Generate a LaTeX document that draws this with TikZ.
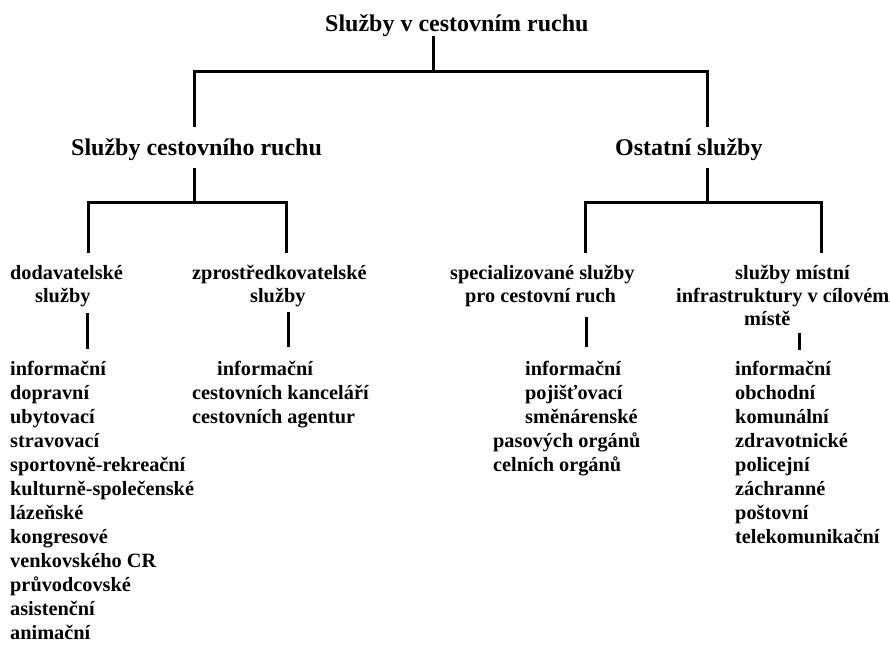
\documentclass[tikz,border=0pt]{standalone}
\usepackage{fontspec}
\setmainfont{Liberation Serif}
\begin{document}
\begin{tikzpicture}[x=1pt,y=-1pt,
  head/.style={font=\bfseries\fontsize{24}{28}\selectfont, inner sep=0pt, anchor=base west},
  item/.style={font=\bfseries\fontsize{20.3}{24}\selectfont, inner sep=0pt, anchor=base west},
  link/.style={line width=3pt, line join=miter}]
\useasboundingbox (0,0) rectangle (890,645);
% level 0 and 1
\node[head] (root) at (325,31) {Služby v cestovním ruchu};
\node[head] (sc) at (71,155) {Služby cestovního ruchu};
\node[head] (os) at (615,155) {Ostatní služby};
% level 2 labels
\node[item] (dod1) at (10,279) {dodavatelské};
\node[item] (dod2) at (35,302) {služby};
\node[item] (zpr1) at (192,279) {zprostředkovatelské};
\node[item] (zpr2) at (250,302) {služby};
\node[item] (spe1) at (450,279) {specializované služby};
\node[item] (spe2) at (465,302) {pro cestovní ruch};
\node[item] (mis1) at (735,279) {služby místní};
\node[item] (mis2) at (676,302) {infrastruktury v cílovém};
\node[item] (mis3) at (744,325) {místě};
% lists
\foreach \t [count=\i] in {informační,dopravní,ubytovací,stravovací,sportovně-rekreační,kulturně-společenské,lázeňské,kongresové,venkovského CR,průvodcovské,asistenční,animační}
  {\node[item] (dl\i) at (10,{375+24*(\i-1)}) {\t};}
\node[item] (zl1) at (217,375) {informační};
\node[item] (zl2) at (192,399) {cestovních kanceláří};
\node[item] (zl3) at (192,423) {cestovních agentur};
\node[item] (sl1) at (525,375) {informační};
\node[item] (sl2) at (525,399) {pojišťovací};
\node[item] (sl3) at (525,423) {směnárenské};
\node[item] (sl4) at (493,447) {pasových orgánů};
\node[item] (sl5) at (493,471) {celních orgánů};
\foreach \t [count=\i] in {informační,obchodní,komunální,zdravotnické,policejní,záchranné,poštovní,telekomunikační}
  {\node[item] (ml\i) at (735,{375+24*(\i-1)}) {\t};}
% junction coordinates
\coordinate (r0) at (433,71);
\coordinate (scT) at (194,127);
\coordinate (osT) at (707,127);
\coordinate (scB) at (194,168);
\coordinate (scJ) at (194,202);
\coordinate (osB) at (707,168);
\coordinate (osJ) at (707,202);
\coordinate (dodT) at (88,253);
\coordinate (zprT) at (286,253);
\coordinate (speT) at (585,253);
\coordinate (misT) at (821,253);
\coordinate (dodB) at (87,313);
\coordinate (dodL) at (87,349);
\coordinate (zprB) at (288,312);
\coordinate (zprL) at (288,347);
\coordinate (speB) at (586,317);
\coordinate (speL) at (586,347);
\coordinate (misB) at (799,333);
\coordinate (misL) at (799,350);
% connectors
\draw[link] (root.south -| r0) -- (r0);
\draw[link] (scT) |- (r0) -| (osT);
\draw[link] (scB) -- (scJ);
\draw[link] (dodT) |- (scJ) -| (zprT);
\draw[link] (osB) -- (osJ);
\draw[link] (speT) |- (osJ) -| (misT);
\draw[link] (dodB) -- (dodL);
\draw[link] (zprB) -- (zprL);
\draw[link] (speB) -- (speL);
\draw[link] (misB) -- (misL);
\end{tikzpicture}
\end{document}
